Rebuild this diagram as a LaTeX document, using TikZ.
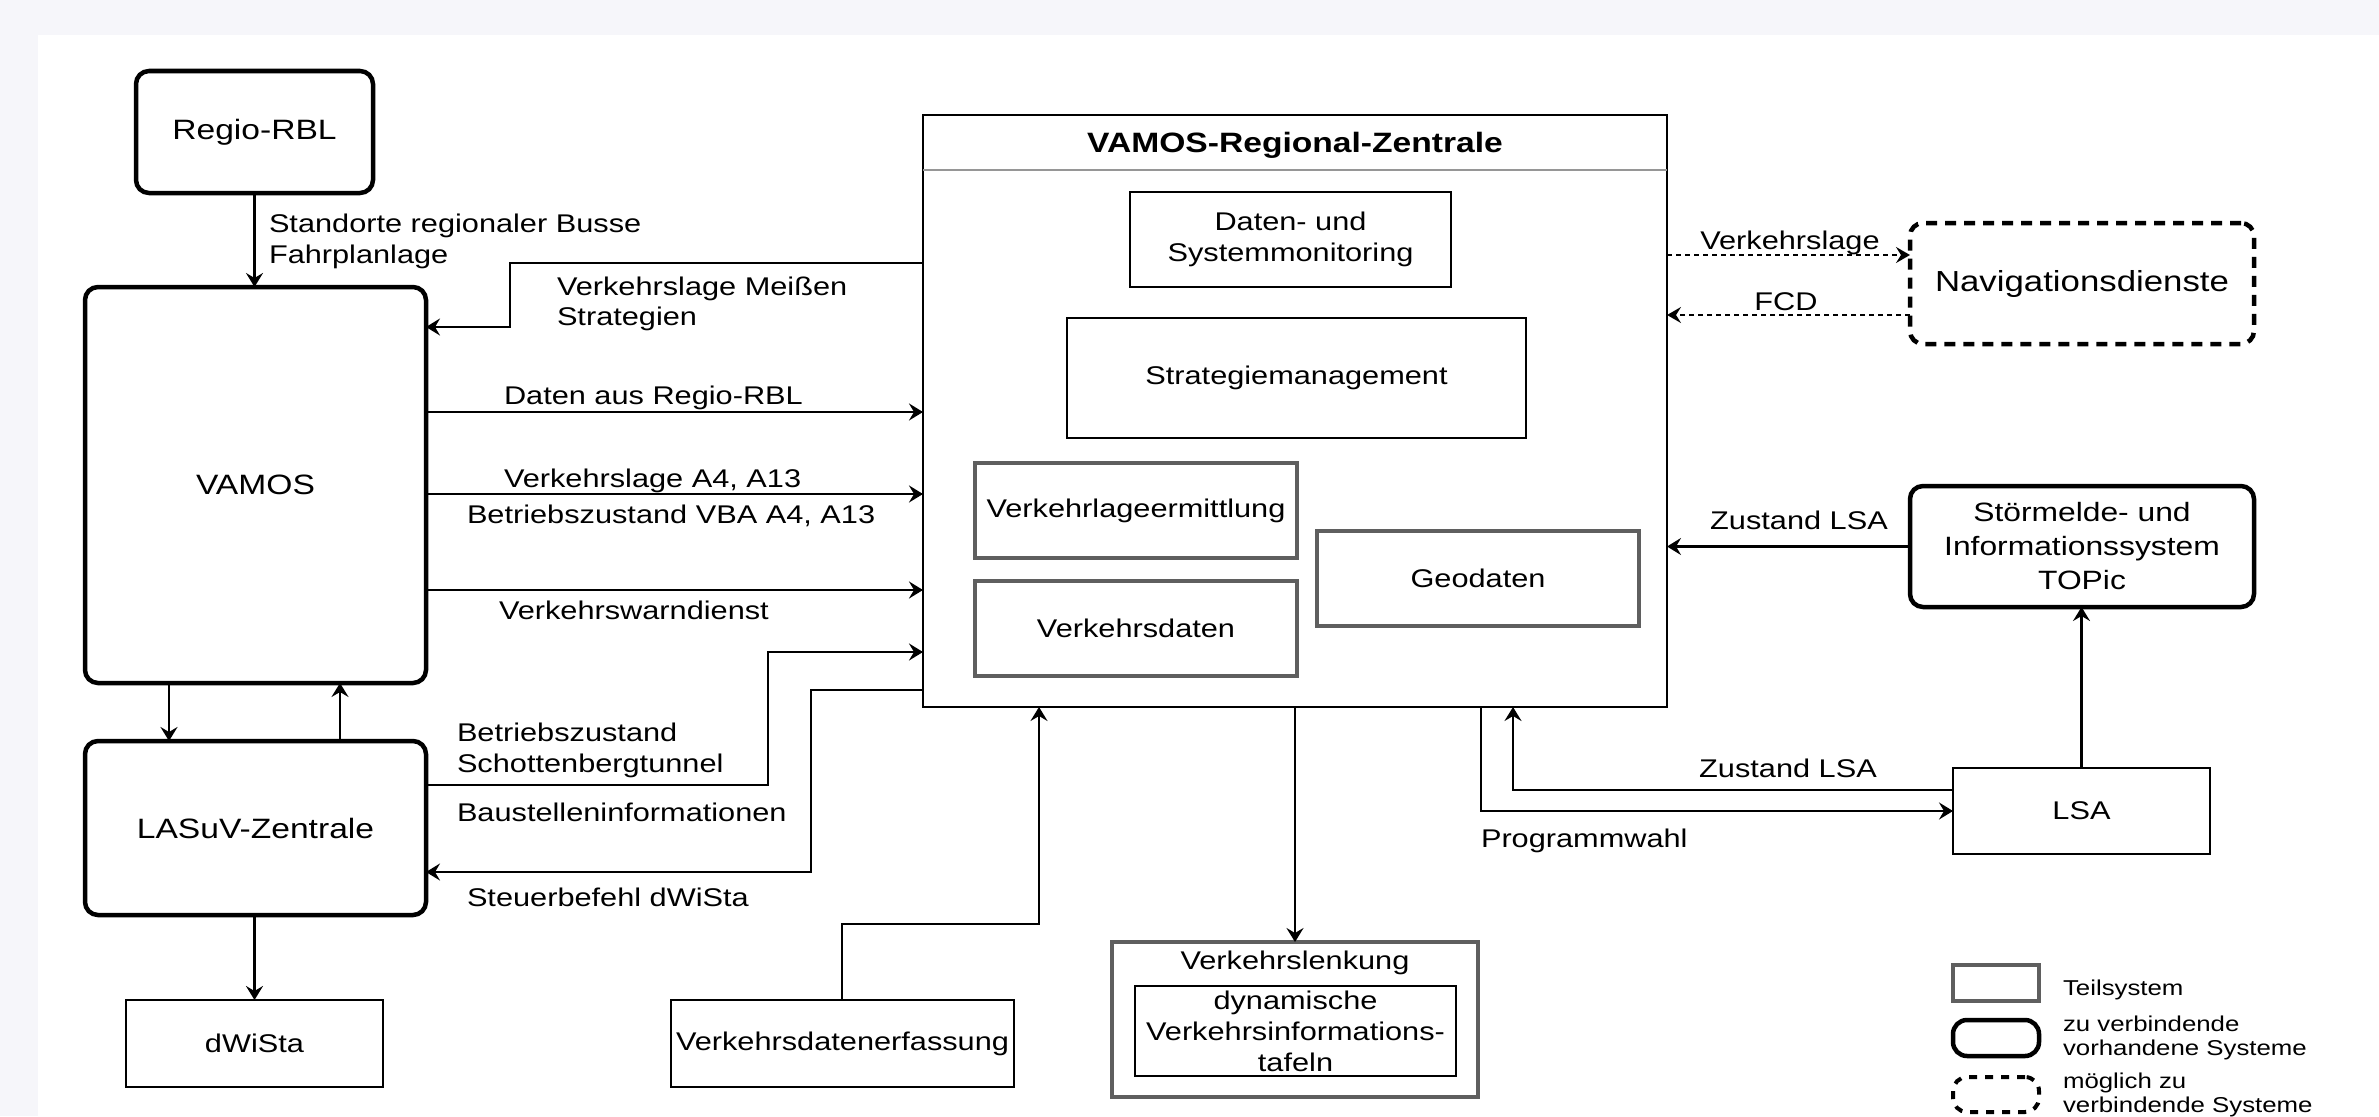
\documentclass[tikz,border=0pt]{standalone}
\usepackage{fontspec}
\setmainfont{Liberation Sans}[FakeStretch=1.2]
\usetikzlibrary{arrows.meta,calc}
\definecolor{bgc}{RGB}{246,246,250}
\definecolor{gline}{RGB}{95,95,95}
\definecolor{hline}{RGB}{150,150,150}
\begin{document}
\begin{tikzpicture}[x=1pt,y=-1pt,
  every node/.style={font=\fontsize{25.6}{31}\selectfont, inner sep=0pt, outer sep=0pt},
  sbox/.style={draw, line width=2.4pt, align=center},
  gbox/.style={draw=gline, line width=3.4pt, align=center},
  rbox/.style={draw, line width=4.5pt, rounded corners=13pt, align=center, font=\fontsize{28}{33}\selectfont},
  dbox/.style={draw, line width=4.5pt, rounded corners=13pt, dash pattern=on 11pt off 8pt, align=center, font=\fontsize{29}{34}\selectfont},
  lbl/.style={anchor=base west},
  clbl/.style={anchor=base},
  legtxt/.style={anchor=base west, font=\fontsize{21.5}{24}\selectfont},
  arr/.style={line width=2.3pt, -{Stealth[length=14pt,width=17pt,inset=5pt]}},
  darr/.style={line width=1.8pt, dash pattern=on 5pt off 4pt, -{Stealth[length=14pt,width=16pt,inset=5pt]}}
]
\useasboundingbox (0,0) rectangle (2379,1116);
\fill[bgc] (0,0) rectangle (2379,1116);
\fill[white] (38,35) rectangle (2379,1116);

% left systems
\node[rbox, minimum width=237pt, minimum height=122pt] (regio) at (254.5,132) {Regio-RBL};
\node[rbox, minimum width=341pt, minimum height=396pt] (vamos) at (255.5,485) {VAMOS};
\node[rbox, minimum width=341pt, minimum height=174pt] (lasuv) at (255.5,828) {LASuV-Zentrale};
\node[sbox, minimum width=257pt, minimum height=87pt] (dwista) at (254.5,1043.5) {dWiSta};
\node[sbox, minimum width=343pt, minimum height=87pt] (vde) at (842.5,1043.5) {Verkehrsdatenerfassung};

% central system
\node[sbox, minimum width=744pt, minimum height=592pt] (vrz) at (1295,411) {};
\draw[hline, line width=1.6pt] ($(vrz.north west)+(0,55)$) -- ($(vrz.north east)+(0,55)$);
\node[clbl, font=\fontsize{28}{33}\selectfont\bfseries] (title) at (1295,152) {VAMOS-Regional-Zentrale};
\node[sbox, minimum width=321pt, minimum height=95pt] (dsm) at (1290.5,239.5) {Daten- und\\Systemmonitoring};
\node[sbox, minimum width=459pt, minimum height=120pt] (sm) at (1296.5,378) {Strategiemanagement};
\node[gbox, minimum width=322pt, minimum height=95pt] (vle) at (1136,510.5) {Verkehrlageermittlung};
\node[gbox, minimum width=322pt, minimum height=95pt] (vd) at (1136,628.5) {Verkehrsdaten};
\node[gbox, minimum width=322pt, minimum height=95pt] (geo) at (1478,578.5) {Geodaten};

% right systems
\node[dbox, minimum width=344pt, minimum height=121pt] (nav) at (2082,283.5) {Navigationsdienste};
\node[rbox, minimum width=344pt, minimum height=121pt, font=\fontsize{26.5}{34}\selectfont] (topic) at (2082,546.5) {Störmelde- und\\Informationssystem\\TOPic};
\node[sbox, minimum width=257pt, minimum height=86pt] (lsa) at (2081.5,811) {LSA};

% Verkehrslenkung
\node[gbox, minimum width=366pt, minimum height=155pt] (vlo) at (1295,1019.5) {};
\node[clbl] (vlt) at (1295,969) {Verkehrslenkung};
\node[sbox, minimum width=321pt, minimum height=90pt] (vli) at (1295.5,1031) {dynamische\\Verkehrsinformations-\\tafeln};

% connectors
\draw[arr] (regio.south) -- (regio.south |- vamos.north);
\node[lbl] (t1) at (269,232) {Standorte regionaler Busse};
\node[lbl] (t2) at (269,263) {Fahrplanlage};

\draw[arr] (vrz.west |- 0,263) -- (510,263) -- (510,327) -- (vamos.east |- 0,327);
\node[lbl] (t3) at (557,295) {Verkehrslage Meißen};
\node[lbl] (t4) at (557,325) {Strategien};

\draw[arr] (vamos.east |- 0,412) -- (vrz.west |- 0,412);
\node[lbl] (t5) at (504,404) {Daten aus Regio-RBL};

\draw[arr] (vamos.east |- 0,494) -- (vrz.west |- 0,494);
\node[lbl] (t6) at (504,487) {Verkehrslage A4, A13};
\node[lbl] (t7) at (467,523) {Betriebszustand VBA A4, A13};

\draw[arr] (vamos.east |- 0,590) -- (vrz.west |- 0,590);
\node[lbl] (t8) at (499,619) {Verkehrswarndienst};

\draw[arr] (lasuv.east |- 0,785) -- (768,785) -- (768,652) -- (vrz.west |- 0,652);
\node[lbl] (t9) at (457,741) {Betriebszustand};
\node[lbl] (t10) at (457,772) {Schottenbergtunnel};
\node[lbl] (t11) at (457,821) {Baustelleninformationen};

\draw[arr] (vrz.west |- 0,690) -- (811,690) -- (811,872) -- (lasuv.east |- 0,872);
\node[lbl] (t12) at (467,906) {Steuerbefehl dWiSta};

\draw[arr] (vamos.south -| 169,0) -- (lasuv.north -| 169,0);
\draw[arr] (lasuv.north -| 340,0) -- (vamos.south -| 340,0);
\draw[arr] (lasuv.south -| dwista.north) -- (dwista.north);

\draw[arr] (vde.north -| 842,0) -- (842,924) -- (1039,924) -- (vrz.south -| 1039,0);
\draw[arr] (vrz.south -| vlo.north) -- (vlo.north);

\draw[arr] (vrz.south -| 1481,0) -- (1481,811) -- (lsa.west |- 0,811);
\node[lbl] (t13) at (1481,847) {Programmwahl};
\draw[arr] (lsa.west |- 0,790) -- (1513,790) -- (vrz.south -| 1513,0);
\node[clbl] (t14) at (1788,777) {Zustand LSA};

\draw[arr] (lsa.north) -- (lsa.north |- topic.south);
\draw[arr] (topic.west) -- (vrz.east |- topic.west);
\node[clbl] (t15) at (1799,529) {Zustand LSA};

\draw[darr] (vrz.east |- 0,255) -- (nav.west |- 0,255);
\node[clbl] (t16) at (1790,249) {Verkehrslage};
\draw[darr] (nav.west |- 0,315) -- (vrz.east |- 0,315);
\node[clbl] (t17) at (1786,310) {FCD};

% legend
\node[gbox, minimum width=86pt, minimum height=36pt] (lt) at (1996,983) {};
\node[rbox, minimum width=86pt, minimum height=36pt, rounded corners=14pt] (lr) at (1996,1038) {};
\node[dbox, minimum width=86pt, minimum height=35pt, rounded corners=14pt, line width=4pt, dash pattern=on 8pt off 8pt] (ld) at (1996,1094.5) {};
\node[legtxt] (lt1) at (2063,995) {Teilsystem};
\node[legtxt] (lt2) at (2063,1031) {zu verbindende};
\node[legtxt] (lt3) at (2063,1055) {vorhandene Systeme};
\node[legtxt] (lt4) at (2063,1088) {möglich zu};
\node[legtxt] (lt5) at (2063,1112) {verbindende Systeme};
\end{tikzpicture}
\end{document}
